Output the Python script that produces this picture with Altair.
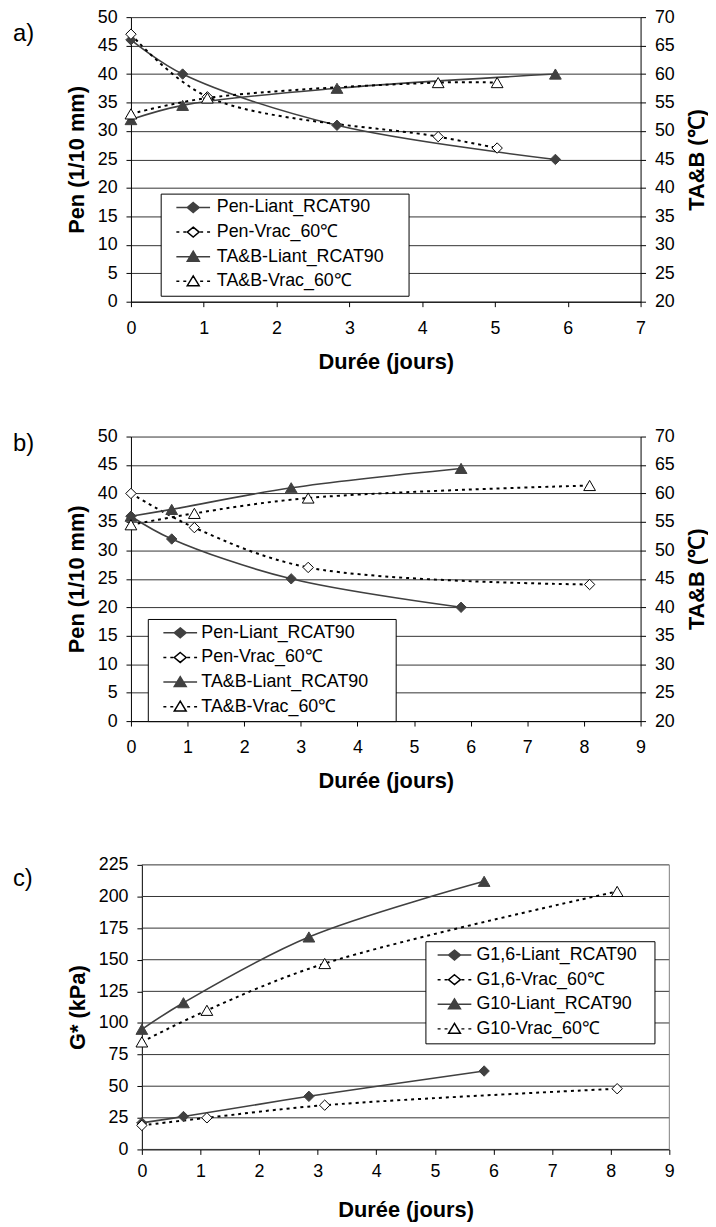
import altair as alt
import pandas as pd

FONT = "Liberation Sans"
DARK = "#404040"

PANEL_LABELS = ["a)", "b)", "c)"]
NAMES_AB = ["Pen-Liant_RCAT90", "Pen-Vrac_60℃", "TA&B-Liant_RCAT90", "TA&B-Vrac_60℃"]
NAMES_C = ["G1,6-Liant_RCAT90", "G1,6-Vrac_60℃", "G10-Liant_RCAT90", "G10-Vrac_60℃"]

X_TITLE = "Durée (jours)"
PEN_TITLE = "Pen (1/10 mm)"
TAB_TITLE = "TA&B (℃)"
G_TITLE = "G* (kPa)"

# panel a
A_LIANT_X = [0, 0.71, 2.83, 5.83]
A_VRAC_X = [0, 1.05, 4.22, 5.03]
A_PEN_LIANT = [46, 40, 31, 25]
A_PEN_VRAC = [47, 36, 29, 27]
A_TAB_LIANT = [52, 54.5, 57.5, 60]
A_TAB_VRAC = [53, 55.8, 58.5, 58.5]
# panel b
B_LIANT_X = [0, 0.72, 2.83, 5.83]
B_VRAC_X = [0, 1.12, 3.13, 8.1]
B_PEN_LIANT = [36, 32, 25, 20]
B_PEN_VRAC = [40, 34, 27, 24]
B_TAB_LIANT = [56, 57.2, 61, 64.4]
B_TAB_VRAC = [54.5, 56.5, 59.2, 61.4]
# panel c
C_LIANT_X = [0, 0.71, 2.85, 5.84]
C_VRAC_X = [0, 1.11, 3.12, 8.11]
C_G16_LIANT = [21, 26, 42, 62]
C_G16_VRAC = [19, 25, 35, 48]
C_G10_LIANT = [95, 116, 168, 212]
C_G10_VRAC = [85, 110, 147, 204]
C_Y_TICKS = list(range(0, 226, 25))

AXIS_STYLE = dict(
    labelFont=FONT, titleFont=FONT, labelFontSize=18, titleFontSize=22,
    titleFontWeight="bold", labelColor="black", titleColor="black",
    domainColor="black", tickColor="black", tickSize=5, labelFlush=False,
    labelOverlap=False,
)
GRID_COLOR = "#333333"


def legend_path(dashed, shape, reach):
    if dashed:
        segs = [(-3.4, -2.8), (-2.0, -1.4), (1.4, 2.0), (2.8, 3.4)]
        line = "".join(f"M{a},0L{b},0" for a, b in segs)
    else:
        line = "M-3.4,0L3.4,0"
    if shape == "diamond":
        mk = "M0,-1L1.2,0L0,1L-1.2,0Z"
    else:
        mk = "M0,-1.1L1.2,0.9L-1.2,0.9Z"
    # the last move only widens the legend frame
    return line + mk + f"M{reach},0"


FILLS = [DARK, "white", DARK, "white"]
STROKES = [DARK, "black", DARK, "black"]


def series(xs, ys, solid, shape, x_enc, y_enc):
    df = pd.DataFrame({"x": xs, "y": ys})
    size = 110 if shape == "diamond" else 140
    if solid:
        line = alt.Chart(df).mark_line(interpolate="catmull-rom", color=DARK, strokeWidth=1.6)
        pts = alt.Chart(df).mark_point(shape=shape, filled=True, fill=DARK, stroke=DARK,
                                       strokeWidth=1, size=size, opacity=1)
    else:
        line = alt.Chart(df).mark_line(interpolate="catmull-rom", color="black", strokeWidth=2,
                                       strokeDash=[3, 4])
        pts = alt.Chart(df).mark_point(shape=shape, filled=True, fill="white", stroke="black",
                                       strokeWidth=1, size=size, opacity=1)
    return line.encode(x=x_enc, y=y_enc), pts.encode(x=x_enc, y=y_enc)


def panel(label, lab_y, xmax, width, height, shift, x_lab_pad, x_title_pad,
          left, right, names, leg, grid_ticks=None):
    x_enc = alt.X("x:Q", title=X_TITLE,
                  scale=alt.Scale(domain=[0, xmax], nice=False, zero=False,
                                  range=[shift, width]),
                  axis=alt.Axis(values=list(range(xmax + 1)), grid=False, format="d",
                                labelPadding=x_lab_pad, titlePadding=x_title_pad, **AXIS_STYLE))
    groups = []
    for spec in [left, right]:
        if spec is None:
            continue
        title, lo, hi, step, orient, data = spec
        ax = dict(values=list(range(lo, hi + 1, step)), orient=orient, labelPadding=9,
                  **AXIS_STYLE)
        if orient == "left":
            ax.update(grid=grid_ticks is None, gridColor=GRID_COLOR, gridWidth=1,
                      titlePadding=9)
            if shift:
                ax.update(offset=-shift)
        else:
            ax.update(grid=False, titlePadding=12, titleAngle=270, titleBaseline="top")
        y_enc = alt.Y("y:Q", title=title, scale=alt.Scale(domain=[lo, hi], nice=False, zero=False),
                      axis=alt.Axis(**ax))
        layers = []
        if grid_ticks is not None:
            gdf = pd.DataFrame({"y": grid_ticks})
            layers.append(alt.Chart(gdf).mark_rule(color=GRID_COLOR, strokeWidth=1).encode(
                y=y_enc, x=alt.datum(0), x2=alt.datum(xmax)))
            layers.append(alt.Chart(pd.DataFrame({"y": [lo]})).mark_rule(
                color="#808080", strokeWidth=1).encode(
                y=y_enc, y2=alt.datum(hi), x=alt.datum(xmax)))
        lines, pts = [], []
        for (xs, ys, solid, shape) in data:
            l, p = series(xs, ys, solid, shape, x_enc, y_enc)
            lines.append(l)
            pts.append(p)
        groups.append(alt.layer(*layers, *lines, *pts))

    lx, ly, pad, rowpad, symoff, laboff, reach = leg
    paths = [legend_path(False, "diamond", reach), legend_path(True, "diamond", reach),
             legend_path(False, "triangle", reach), legend_path(True, "triangle", reach)]
    lg = alt.Legend(orient="none", legendX=lx, legendY=ly, padding=pad, rowPadding=rowpad,
                    strokeColor="black", fillColor="white", labelFont=FONT, labelFontSize=18,
                    labelColor="black", labelLimit=400, symbolOffset=symoff,
                    labelOffset=laboff, symbolSize=100, symbolStrokeWidth=1.5,
                    cornerRadius=0)
    leg_layer = alt.Chart(pd.DataFrame({"s": names})).transform_filter("false").mark_point(
        filled=True, opacity=1, size=100
    ).encode(
        shape=alt.Shape("s:N", title=None, legend=lg,
                        scale=alt.Scale(domain=names, range=paths)),
        fill=alt.Fill("s:N", title=None, legend=lg,
                      scale=alt.Scale(domain=names, range=FILLS)),
        stroke=alt.Stroke("s:N", title=None, legend=lg,
                          scale=alt.Scale(domain=names, range=STROKES)),
    )
    lab = alt.Chart(pd.DataFrame({"t": [label]})).mark_text(
        align="left", baseline="middle", font=FONT, fontSize=24, color="black"
    ).encode(x=alt.value(-119), y=alt.value(lab_y), text="t:N")

    ch = alt.layer(*groups, leg_layer, lab).properties(width=width, height=height)
    if len(groups) > 1:
        ch = ch.resolve_scale(y="independent")
    return ch


chart_a = panel(
    PANEL_LABELS[0], 17, 7, 514, 287, 0, 13, 14,
    (PEN_TITLE, 0, 50, 5, "left", [
        (A_LIANT_X, A_PEN_LIANT, True, "diamond"),
        (A_VRAC_X, A_PEN_VRAC, False, "diamond")]),
    (TAB_TITLE, 20, 70, 5, "right", [
        (A_LIANT_X, A_TAB_LIANT, True, "triangle-up"),
        (A_VRAC_X, A_TAB_VRAC, False, "triangle-up")]),
    NAMES_AB, (30, 178, 5, 6.8, 18.8, 14.8, 41.7),
)
chart_b = panel(
    PANEL_LABELS[1], 8, 9, 514, 287, 0, 13, 14,
    (PEN_TITLE, 0, 50, 5, "left", [
        (B_LIANT_X, B_PEN_LIANT, True, "diamond"),
        (B_VRAC_X, B_PEN_VRAC, False, "diamond")]),
    (TAB_TITLE, 20, 70, 5, "right", [
        (B_LIANT_X, B_TAB_LIANT, True, "triangle-up"),
        (B_VRAC_X, B_TAB_VRAC, False, "triangle-up")]),
    NAMES_AB, (17, 184, 5, 6.8, 18.7, 12.3, 41.7),
)
chart_c = panel(
    PANEL_LABELS[2], 14, 9, 543, 287, 11, 8, 20,
    (G_TITLE, 0, 225, 25, "left", [
        (C_LIANT_X, C_G16_LIANT, True, "diamond"),
        (C_VRAC_X, C_G16_VRAC, False, "diamond"),
        (C_LIANT_X, C_G10_LIANT, True, "triangle-up"),
        (C_VRAC_X, C_G10_VRAC, False, "triangle-up")]),
    None,
    NAMES_C, (297, 77, 5, 6.8, 15.3, 13.2, 38.6),
    grid_ticks=C_Y_TICKS,
)

RES = dict(shape="independent", fill="independent", stroke="independent")
top = alt.concat(chart_a, chart_b, columns=1, spacing=56, align="none").resolve_scale(**RES)
chart = alt.concat(top, chart_c, columns=1, spacing=65, align="none").resolve_scale(**RES)
chart = chart.properties(
    padding={"left": 5, "top": -5, "right": 0, "bottom": 0}, background="white"
).configure_view(strokeWidth=0)

chart.save("out.html", embed_options={"renderer": "svg", "actions": False})
